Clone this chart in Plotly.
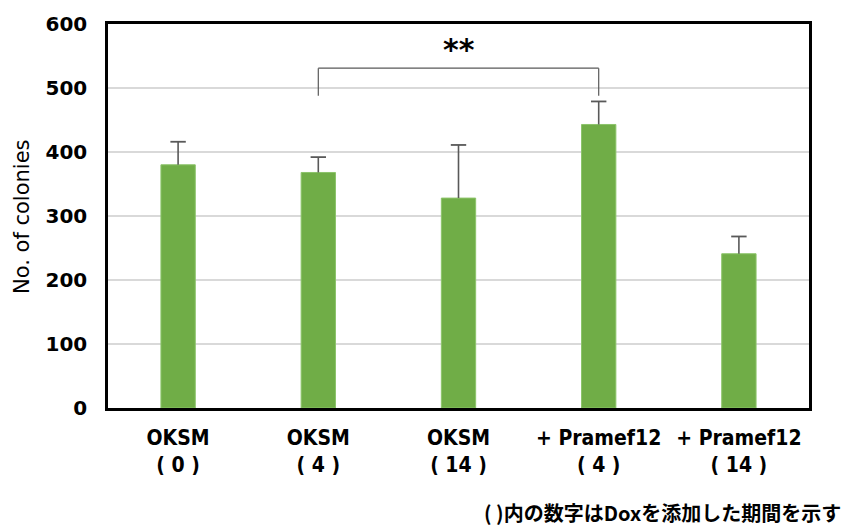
import plotly.graph_objects as go

# Colony counts per condition (Dox days in parentheses)
groups = ["OKSM<br>( 0 )", "OKSM<br>( 4 )", "OKSM<br>( 14 )", "+ Pramef12<br>( 4 )", "+ Pramef12<br>( 14 )"]
colonies = [380, 368, 328, 443, 241]
sd_upper = [36, 24, 83, 36, 27]
y_ticks = [0, 100, 200, 300, 400, 500, 600]

# significance bracket between OKSM(4) and +Pramef12(4)
bracket_pair = (1, 3)
bracket_low = 488
bracket_high = 531
sig_label = "**"
sig_y = 560

footnote = "( )内の数字はDoxを添加した期間を示す"

x_idx = list(range(len(groups)))
err_color = "#595959"

fig = go.Figure()
# bars with upper-only error stems (no caps; caps drawn separately)
fig.add_trace(go.Bar(
    x=x_idx,
    y=colonies,
    marker=dict(color="#70AD47", line=dict(color="#8CC46A", width=1)),
    error_y=dict(type="data", symmetric=False, array=sd_upper,
                 arrayminus=[0] * len(sd_upper),
                 color=err_color, thickness=1.6, width=0),
    width=0.245,
))
# caps at the top of each error bar
fig.add_trace(go.Scatter(
    x=x_idx,
    y=[v + e for v, e in zip(colonies, sd_upper)],
    mode="markers",
    marker=dict(symbol="line-ew-open", size=11, color=err_color,
                line=dict(color=err_color, width=1.8)),
    hoverinfo="skip",
))

x0, x1 = bracket_pair
line_style = dict(color=err_color, width=1.2)
fig.add_shape(type="line", xref="x", yref="y", x0=x0, x1=x0, y0=bracket_low, y1=bracket_high, line=line_style)
fig.add_shape(type="line", xref="x", yref="y", x0=x0, x1=x1, y0=bracket_high, y1=bracket_high, line=line_style)
fig.add_shape(type="line", xref="x", yref="y", x0=x1, x1=x1, y0=bracket_low, y1=bracket_high, line=line_style)

fig.add_annotation(x=(x0 + x1) / 2, y=sig_y, xref="x", yref="y", text=sig_label,
                   showarrow=False, font=dict(family="DejaVu Sans", size=30, color="black", weight="bold"))

fig.add_annotation(x=-0.1227, y=0.5, xref="paper", yref="paper", text="No. of colonies",
                   textangle=-90, showarrow=False, xanchor="center", yanchor="middle",
                   font=dict(family="DejaVu Sans", size=21, color="black"))

fig.add_annotation(x=1.0485, y=-0.271, xref="paper", yref="paper", text=footnote,
                   showarrow=False, xanchor="right", yanchor="middle",
                   font=dict(family="Noto Sans CJK JP", size=20, color="black", weight="bold"))

fig.update_xaxes(
    range=[-0.5, len(groups) - 0.5],
    tickmode="array", tickvals=x_idx, ticktext=groups,
    tickfont=dict(family="DejaVu Sans Condensed, Roboto, sans-serif", size=21, color="black", weight="bold"),
    showline=True, linecolor="black", linewidth=2.5, mirror=True,
    showgrid=False, ticks="", ticklabelstandoff=9, zeroline=False,
)
fig.update_yaxes(
    range=[0, 600],
    tickmode="array", tickvals=y_ticks,
    tickfont=dict(family="DejaVu Sans", size=20, color="black", weight="bold"),
    showline=True, linecolor="black", linewidth=2.5, mirror=True,
    showgrid=True, gridcolor="#D9D9D9", gridwidth=1.5,
    ticks="", ticklabelstandoff=14, zeroline=False,
)

fig.update_layout(
    width=848, height=526,
    margin=dict(l=108, r=39, t=24, b=118),
    plot_bgcolor="white", paper_bgcolor="white",
    showlegend=False,
)

fig.write_html("out.html")
